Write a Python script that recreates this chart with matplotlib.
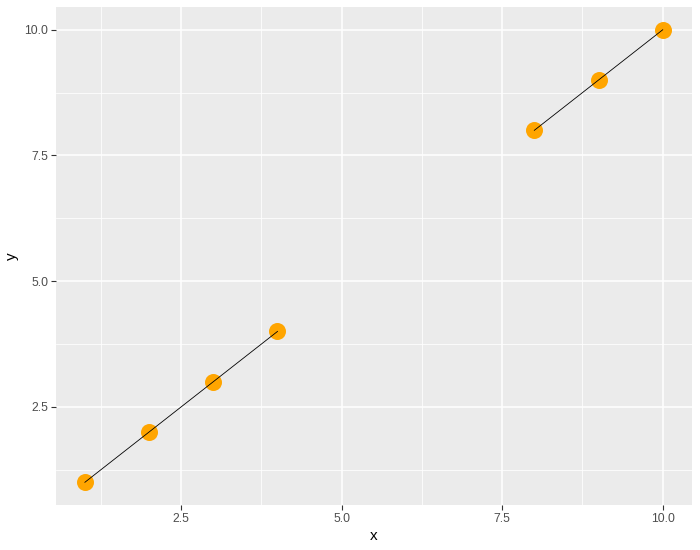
import matplotlib
matplotlib.use("Agg")
import matplotlib.pyplot as plt
import numpy as np

x_vals = [1, 2, 3, 4, 8, 9, 10]
y_vals = [1, 2, 3, 4, 8, 9, 10]
groups = [1, 1, 1, 1, 2, 2, 2]
x_ticks = [2.5, 5.0, 7.5, 10.0]
x_tick_labels = ["2.5", "5.0", "7.5", "10.0"]
y_ticks = [2.5, 5.0, 7.5, 10.0]
y_tick_labels = ["2.5", "5.0", "7.5", "10.0"]

plt.rcParams['font.family'] = ['Liberation Sans', 'DejaVu Sans']

fig = plt.figure(figsize=(7, 5.5), dpi=100)
ax = fig.add_axes([0.08, 0.082, 0.908, 0.905])
ax.set_facecolor("#EBEBEB")

x = np.array(x_vals); y = np.array(y_vals); g = np.array(groups)
ax.scatter(x, y, s=150, color="#FFA500", zorder=3, linewidths=0)
for gr in np.unique(g):
    m = g == gr
    ax.plot(x[m], y[m], color="black", linewidth=0.6, zorder=4)

ax.set_xlim(0.55, 10.45)
ax.set_ylim(0.55, 10.45)
ax.set_xticks(x_ticks)
ax.set_xticklabels(x_tick_labels)
ax.set_yticks(y_ticks)
ax.set_yticklabels(y_tick_labels)
ax.set_xticks([1.25, 3.75, 6.25, 8.75], minor=True)
ax.set_yticks([1.25, 3.75, 6.25, 8.75], minor=True)
ax.grid(which="major", color="white", linewidth=1.1, zorder=0)
ax.grid(which="minor", color="white", linewidth=0.55, zorder=0)
ax.set_axisbelow(True)
for sp in ax.spines.values():
    sp.set_visible(False)
ax.tick_params(which="major", length=3.5, width=0.8, color="#333333",
               labelcolor="#4D4D4D", labelsize=8.8, pad=2)
ax.tick_params(which="minor", length=0)
ax.set_xlabel("x", fontsize=11, color="black", labelpad=3)
ax.set_ylabel("y", fontsize=11, color="black", labelpad=4)

fig.savefig("out.png", dpi=100, facecolor="white")
